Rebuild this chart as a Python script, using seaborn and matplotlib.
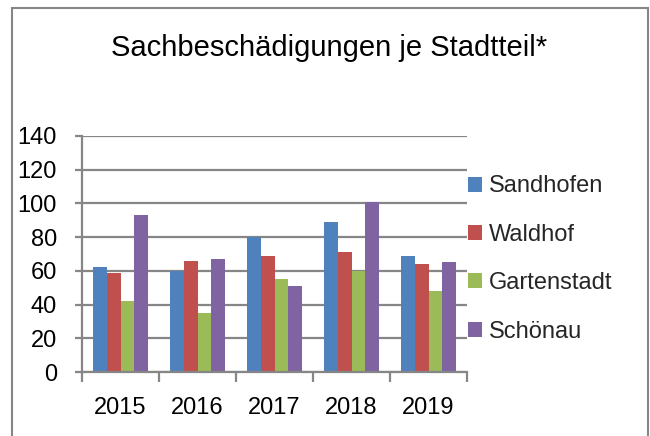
import matplotlib
matplotlib.use("Agg")
import matplotlib.pyplot as plt
import seaborn as sns
import pandas as pd
import numpy as np
from matplotlib.patches import Rectangle

years = ["2015", "2016", "2017", "2018", "2019"]
districts = ["Sandhofen", "Waldhof", "Gartenstadt", "Schönau"]
sandhofen = [62, 60, 80, 89, 69]
waldhof = [59, 66, 69, 71, 64]
gartenstadt = [42, 35, 55, 60, 48]
schoenau = [93, 67, 51, 101, 65]
colors = ["#4F81BD", "#C0504D", "#9BBB59", "#8064A2"]
title = "Sachbeschädigungen je Stadtteil*"
yticks = [0, 20, 40, 60, 80, 100, 120, 140]

series = [sandhofen, waldhof, gartenstadt, schoenau]
rows = []
for d, vals in zip(districts, series):
    for y, v in zip(years, vals):
        rows.append({"Jahr": y, "Stadtteil": d, "Wert": v})
df = pd.DataFrame(rows)

sns.set_style("white")
font = ["Liberation Sans", "DejaVu Sans"]
plt.rcParams["font.family"] = font

fig = plt.figure(figsize=(6.5, 4.36), dpi=100)
ax = fig.add_axes([82/650, 1-372/436, (467-82)/650, (372-136)/436])

sns.barplot(data=df, x="Jahr", y="Wert", hue="Stadtteil", order=years,
            hue_order=districts, palette=colors, ax=ax, width=0.715,
            saturation=1, edgecolor="none", linewidth=0, legend=True)

grid_c = "#868686"
ax.set_ylim(0, 140)
ax.set_yticks(yticks)
ax.set_xlim(-0.5, 4.5)
ax.set_axisbelow(True)
ax.yaxis.grid(True, color=grid_c, linewidth=1.6)
ax.xaxis.grid(False)
for s in ["top", "right"]:
    ax.spines[s].set_visible(False)
for s in ["left", "bottom"]:
    ax.spines[s].set_color(grid_c)
    ax.spines[s].set_linewidth(1.6)
ax.set_xlabel("")
ax.set_ylabel("")
ax.tick_params(axis="y", which="major", left=True, length=5, width=1.6,
               color=grid_c, pad=13, labelsize=17, labelcolor="black")
ax.tick_params(axis="x", which="major", bottom=False, length=0, pad=18,
               labelsize=17, labelcolor="black")
ax.set_xticks(np.arange(-0.5, 5.0, 1.0), minor=True)
ax.tick_params(axis="x", which="minor", bottom=True, length=7, width=1.6,
               color=grid_c, direction="out")

handles, labels = ax.get_legend_handles_labels()
ax.legend_.remove()
fig.legend(handles, labels, loc="center left", bbox_to_anchor=(468/650, 1-259/436),
           frameon=False, fontsize=17, handlelength=0.6, handleheight=0.6,
           handletextpad=0.3, labelspacing=1.12, borderaxespad=0, borderpad=0)

fig.text(0.506, 1-48/436, title, ha="center", va="center", fontsize=21, color="black")

fig.patches.append(Rectangle((12/650, -0.05), (648-12)/650, 1-8/436+0.05,
                             transform=fig.transFigure, fill=False,
                             edgecolor=grid_c, linewidth=1.5))

fig.savefig("out.png", dpi=100)
